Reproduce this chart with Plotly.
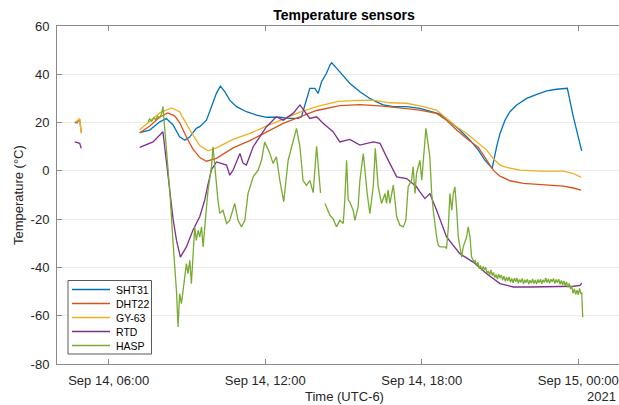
import plotly.graph_objects as go
import pandas as pd

DAY0 = pd.Timestamp("2021-09-14")

# ---- sensor readings: hours after Sep 14 00:00 (UTC-6) and temperature in °C ----
# None marks a gap in the logging
sht31_h = [4.70, 4.81, None,
           7.19, 7.57, 7.96, 8.21, 8.47, 8.72, 8.92, 9.11, 9.36, 9.49, 9.75, 9.94,
           10.13, 10.28, 10.45, 10.64, 10.90, 11.28, 11.67, 12.05, 12.56, 12.94,
           13.26, 13.39, 13.58, 13.71, 13.90, 14.03, 14.16, 14.35, 14.48, 14.55,
           14.86, 15.24, 15.63, 16.01, 16.27, 16.52, 16.91, 17.42, 17.93, 18.44,
           18.70, 19.08, 19.46, 19.85, 20.17, 20.42, 20.70, 20.87, 21.00, 21.19,
           21.38, 21.64, 22.02, 22.41, 22.79, 23.17, 23.58, 23.81, 24.13]
sht31_t = [20.2, 19.8, None,
           15.8, 16.9, 20.3, 21.7, 19.0, 14.1, 12.7, 14.1, 17.6, 18.3, 21.0, 26.6,
           32.1, 35.1, 32.8, 29.3, 26.6, 24.5, 23.1, 22.2, 22.2, 21.7,
           21.7, 22.4, 29.3, 34.2, 34.2, 32.1, 36.9, 40.4, 43.8, 44.8,
           41.0, 36.3, 32.8, 30.0, 28.6, 27.3, 26.6, 26.6, 25.9, 24.5,
           23.5, 20.3, 16.9, 12.7, 8.6, 4.4, 1.0, 10.0, 15.5, 21.0,
           24.5, 27.3, 30.0, 31.7, 33.1, 33.8, 34.2, 22.4, 8.3]

dht22_h = [4.73, 4.89, 4.95, None,
           7.19, 7.57, 7.96, 8.27, 8.53, 8.72, 8.98, 9.23, 9.49, 9.75, 10.13,
           10.77, 11.41, 12.05, 12.69, 13.33, 13.97, 14.86, 15.63, 16.52, 17.42,
           17.93, 18.57, 18.95, 19.34, 19.72, 20.17, 20.49, 20.74, 21.00, 21.38,
           21.89, 22.66, 23.43, 23.81, 24.11]
dht22_t = [19.8, 21.0, 16.0, None,
           15.8, 18.5, 22.3, 24.0, 22.8, 20.0, 14.0, 9.0, 5.5, 4.0, 5.2,
           9.5, 12.5, 16.2, 19.7, 22.4, 25.0, 27.0, 27.4, 26.8, 25.9,
           25.2, 23.8, 21.0, 16.9, 13.4, 9.7, 4.4, 0.3, -2.2, -4.1,
           -5.2, -5.9, -6.3, -7.1, -8.0]

gy63_h = [4.73, 4.89, 4.92, 4.95, None,
          7.19, 7.57, 7.96, 8.41, 8.72, 9.11, 9.49, 9.81, 10.13, 10.77,
          11.41, 12.05, 12.69, 13.33, 13.97, 14.80, 15.63, 16.14, 16.78, 17.42,
          18.06, 18.57, 18.95, 19.34, 19.72, 20.17, 20.49, 20.74, 21.00, 21.26,
          21.77, 22.53, 23.43, 23.81, 24.11]
gy63_t = [20.1, 21.7, 18.5, 15.5, None,
          17.0, 20.5, 24.0, 26.1, 24.5, 17.0, 10.5, 8.3, 9.5, 13.0,
          15.5, 18.5, 21.5, 24.3, 26.6, 28.8, 29.2, 29.3, 28.2, 28.0,
          26.6, 25.2, 21.7, 18.3, 15.5, 11.6, 8.6, 5.1, 2.4, 1.4,
          0.3, -0.1, -0.1, -1.1, -2.7]

rtd_h = [4.70, 4.89, 4.95, None,
         7.19, 7.70, 8.08, 8.34, 8.47, 8.60, 8.75, 8.98, 9.23, 9.49, 9.68,
         9.81, 9.94, 10.13, 10.52, 10.64, 10.77, 11.03, 11.15, 11.28, 11.54, 12.05,
         12.43, 12.69, 13.07, 13.33, 13.71, 13.97, 14.22, 14.60, 14.86, 15.24,
         15.63, 16.14, 16.40, 16.65, 17.04, 17.42, 17.80, 17.93, 18.12, 18.31,
         18.57, 18.95, 19.46, 19.97, 20.49, 21.00, 21.51, 22.15, 23.04, 23.81,
         24.07, 24.13]
rtd_t = [12.0, 11.4, 9.3, None,
         9.7, 12.0, 16.2, -8.0, -20.0, -28.8, -35.7, -31.5, -24.6, -19.0, -12.2,
         -5.5, 0.5, 3.7, 2.4, -1.8, 0.3, 7.2, 3.2, 2.4, 10.0, 18.3,
         22.4, 21.0, 23.8, 27.3, 21.7, 22.4, 19.7, 16.2, 12.0, 13.0,
         10.7, 12.0, 11.4, 5.8, -2.5, -3.2, -6.6, -8.7, -11.5, -9.4,
         -16.3, -27.4, -34.3, -37.8, -42.6, -46.7, -48.1, -48.1, -47.8, -47.8,
         -47.4, -46.5]

hasp_h = [7.51, 7.57, 7.65, 7.73, 7.80, 7.88, 7.96, 8.03, 8.08, 8.34,
          8.47, 8.60, 8.66, 8.72, 8.79, 8.85, 8.92, 8.98, 9.04, 9.11,
          9.17, 9.23, 9.30, 9.36, 9.43, 9.49, 9.56, 9.62, 9.68, 9.75,
          9.81, 9.87, 9.94, 10.00, 10.13,
          10.19, 10.26, 10.38, 10.52, 10.64, 10.83, 10.96, 11.09, 11.22, 11.34,
          11.54, 11.73, 11.86, 11.98, 12.18, 12.30, 12.43, 12.56, 12.71, 12.88,
          13.20, 13.33, 13.45, 13.58, 13.71, 13.84, 13.97, 14.12, None,
          14.29, 14.35, 14.48, 14.60, 14.73, 14.86, 14.99, 15.05, 15.12, 15.18,
          15.24, 15.37, 15.44, 15.50, 15.56, 15.63, 15.76, 15.91, 16.01, 16.14,
          16.22, 16.33, 16.46, 16.59, 16.65, 16.71, 16.78, 16.91, 16.97, 17.04,
          17.16, 17.29, 17.39, 17.48, 17.61, 17.67, 17.74, 17.80, 17.93, 18.00,
          18.16, 18.31, 18.38, 18.44, 18.57, 18.63, 18.70, 18.89, 18.95, 19.02,
          19.08, 19.15, 19.21, 19.27, 19.34, 19.40, 19.53, 19.59, 19.72, 19.78,
          19.85, 19.91, 20.00,
          20.05, 20.10, 20.15, 20.20, 20.25, 20.30, 20.35, 20.40, 20.45, 20.50,
          20.55, 20.60, 20.65, 20.70, 20.75, 20.80, 20.85, 20.90, 20.95, 21.00,
          21.05, 21.10, 21.15, 21.20, 21.25, 21.30, 21.35, 21.40, 21.45, 21.50,
          21.55, 21.60, 21.65, 21.70, 21.75, 21.80, 21.85, 21.90, 21.95, 22.00,
          22.05, 22.10, 22.15, 22.20, 22.25, 22.30, 22.35, 22.40, 22.45, 22.50,
          22.55, 22.60, 22.65, 22.70, 22.75, 22.80, 22.85, 22.90, 22.95, 23.00,
          23.05, 23.10, 23.15, 23.20, 23.25, 23.30, 23.35, 23.40, 23.45, 23.50,
          23.55, 23.60, 23.65, 23.70, 23.75, 23.80, 23.85, 23.90, 23.95, 24.00,
          24.05, 24.10, 24.13, 24.17]
hasp_t = [20.3, 21.5, 20.6, 22.0, 21.2, 22.6, 22.0, 23.8, 26.6, -8.0,
          -30.0, -50.0, -64.7, -50.9, -55.0, -49.5, -44.0, -38.4, -42.6, -37.0,
          -46.7, -34.3, -23.2, -28.8, -24.6, -27.4, -23.2, -31.5, -21.8, -14.9,
          -8.0, -4.0, 1.7, 10.0, -6.6,
          -12.2, -17.6, -16.3, -21.8, -20.5, -13.5, -20.5, -23.2, -20.5, -9.4,
          -2.5, 0.3, 4.4, 11.9, 7.2, 3.1, 5.8, -3.9, -12.8, 4.4,
          17.6, 10.0, -4.0, -6.0, -4.0, -9.0, 10.2, -9.1, None,
          -13.5, -15.0, -18.4, -19.8, -23.2, -20.5, -21.8, -12.2, 4.4, -12.0,
          -12.8, -16.3, -20.5, -17.7, -15.0, -3.9, 7.2, -9.4, -17.7, -6.6,
          9.3, -6.6, -13.5, -9.4, -13.5, -8.0, -13.5, -5.9, -13.5, -19.0,
          -22.5, -23.2, -20.5, -6.6, -3.9, 1.7, -9.4, -1.1, 4.4, -3.9,
          17.6, 5.8, -9.3, -16.3, -27.4, -30.8, -31.5, -31.5, -32.2, -23.2,
          -9.4, -16.3, -9.4, -6.6, -16.3, -27.4, -35.7, -31.5, -27.4, -23.2,
          -27.4, -35.7, -37.6,
          -37.2, -39.3, -37.8, -40.5, -39.2, -41.3, -39.6, -41.0, -40.0, -42.4,
          -41.5, -43.2, -41.0, -43.3, -42.1, -44.2, -42.9, -44.8, -42.8, -44.4,
          -43.1, -45.3, -43.6, -45.7, -44.1, -45.5, -43.9, -46.1, -44.6, -46.4,
          -44.5, -45.9, -44.4, -46.6, -45.0, -46.2, -44.6, -46.8, -45.1, -46.3,
          -44.9, -46.9, -45.3, -46.5, -44.8, -46.7, -45.2, -46.9, -45.0, -46.4,
          -44.9, -46.8, -45.1, -46.2, -44.4, -46.3, -44.8, -46.6, -44.9, -45.9,
          -44.6, -46.7, -45.0, -46.3, -44.9, -47.0, -45.4, -47.3, -45.6, -47.6,
          -46.0, -48.3, -46.6, -48.9, -47.8, -50.7, -48.9, -51.2, -49.4, -51.3,
          -48.7, -51.0, -50.3, -60.6]

series_names = ["SHT31", "DHT22", "GY-63", "RTD", "HASP"]
series_hours = [sht31_h, dht22_h, gy63_h, rtd_h, hasp_h]
series_temps = [sht31_t, dht22_t, gy63_t, rtd_t, hasp_t]
series_colors = ["#0072BD", "#D95319", "#EDB120", "#7E2F8E", "#77AC30"]

y_ticks = [-80, -60, -40, -20, 0, 20, 40, 60]
y_ticktext = ["-80", "-60", "-40", "-20", "0", "20", "40", "60"]
x_tick_hours = [6, 12, 18, 24]
x_ticktext = ["Sep 14, 06:00", "Sep 14, 12:00", "Sep 14, 18:00", "Sep 15, 00:00"]


def to_time(hours):
    return [None if h is None else DAY0 + pd.Timedelta(hours=h) for h in hours]


FONT = "Liberation Sans, Arial, Helvetica, sans-serif"
W, H = 619, 405
ML, MR, MT, MB = 57, 0, 26, 41
PW, PH = W - ML - MR, H - MT - MB


def px_x(px):
    return (px - ML) / PW


def px_y(py):
    return (H - MB - py) / PH


fig = go.Figure()
for name, hrs, temps, col in zip(series_names, series_hours, series_temps, series_colors):
    fig.add_trace(go.Scatter(
        x=to_time(hrs), y=temps, mode="lines", name=name,
        line=dict(color=col, width=1.3), connectgaps=False, showlegend=False,
    ))

axis_col = "#8a8a8a"
fig.update_layout(
    width=W, height=H,
    margin=dict(l=ML, r=MR, t=MT, b=MB),
    paper_bgcolor="white", plot_bgcolor="white",
    font=dict(family=FONT, size=13, color="#262626"),
    title=dict(text="Temperature sensors", x=344 / W, xref="container", xanchor="center",
               y=1 - 15 / H, yref="container", yanchor="middle",
               font=dict(family=FONT, size=14, color="#000000", weight="bold")),
    xaxis=dict(
        range=[DAY0 + pd.Timedelta(hours=4.02), DAY0 + pd.Timedelta(hours=25.56)],
        tickvals=to_time(x_tick_hours), ticktext=x_ticktext,
        ticks="inside", ticklen=5, tickcolor=axis_col,
        showline=True, linecolor=axis_col, linewidth=1, mirror="ticks",
        showgrid=False, zeroline=False,
        tickfont=dict(size=13, color="#262626"),
        ticklabelstandoff=4,
    ),
    yaxis=dict(
        range=[-80, 60], tickvals=y_ticks, ticktext=y_ticktext,
        ticks="inside", ticklen=5, tickcolor=axis_col,
        showline=True, linecolor=axis_col, linewidth=1,
        showgrid=True, gridcolor="#ebebeb", gridwidth=1, zeroline=False,
        tickfont=dict(size=13, color="#262626"),
        ticklabelstandoff=4,
    ),
)

# axis titles and year stamp
annotations = [
    dict(text="Temperature (°C)", x=px_x(18), y=px_y(195), xref="paper", yref="paper",
         textangle=-90, showarrow=False, xanchor="center", yanchor="middle",
         font=dict(size=13, color="#262626")),
    dict(text="Time (UTC-6)", x=px_x(344.5), y=px_y(396.5), xref="paper", yref="paper",
         showarrow=False, xanchor="center", yanchor="middle",
         font=dict(size=13, color="#262626")),
    dict(text="2021", x=px_x(618), y=px_y(396.5), xref="paper", yref="paper",
         showarrow=False, xanchor="right", yanchor="middle",
         font=dict(size=13, color="#262626")),
]

# legend box drawn in the lower-left corner of the axes
shapes = [dict(type="rect", xref="paper", yref="paper",
               x0=px_x(68), x1=px_x(151.5), y0=px_y(354), y1=px_y(280.5),
               fillcolor="white", line=dict(color="#5a5a5a", width=1), layer="above")]
row_y = [289.5, 303.5, 317.5, 331.5, 345.5]
for name, col, ry in zip(series_names, series_colors, row_y):
    shapes.append(dict(type="line", xref="paper", yref="paper",
                       x0=px_x(72), x1=px_x(110), y0=px_y(ry), y1=px_y(ry),
                       line=dict(color=col, width=1.5), layer="above"))
    annotations.append(dict(text=name, x=px_x(114), y=px_y(ry), xref="paper", yref="paper",
                            showarrow=False, xanchor="left", yanchor="middle",
                            font=dict(size=10.5, color="#000000")))

fig.update_layout(shapes=shapes, annotations=annotations)
fig.write_html("out.html")
